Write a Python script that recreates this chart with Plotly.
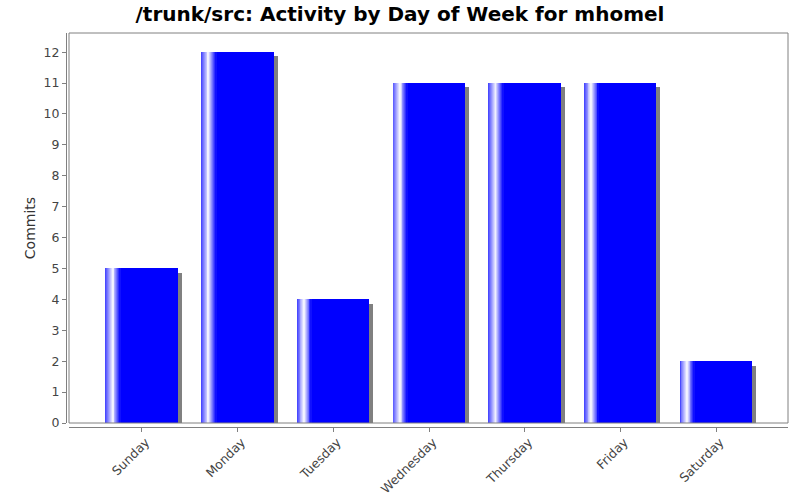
import plotly.graph_objects as go

days = ["Sunday", "Monday", "Tuesday", "Wednesday", "Thursday", "Friday", "Saturday"]
commits = [5, 12, 4, 11, 11, 11, 2]

title = "/trunk/src: Activity by Day of Week for mhomel"
y_title = "Commits"

BAR_W = 0.752
SH_DX = 0.042
SH_DY = 0.14
BLUE = (0, 0, 255)

xs = list(range(len(days)))

fig = go.Figure()

# shadow
fig.add_trace(go.Bar(
    x=[i + SH_DX for i in xs], y=[max(v - SH_DY, 0) for v in commits],
    width=BAR_W, marker=dict(color="#808080", line=dict(width=0)),
    hoverinfo="skip", showlegend=False))

# main bar
fig.add_trace(go.Bar(
    x=xs, y=commits, width=BAR_W,
    marker=dict(color="rgb(0,0,255)", line=dict(width=0)),
    showlegend=False))

# gradient stripe on the left 20% of each bar
def mix(c1, c2, t):
    return tuple(round(a + (b - a) * t) for a, b in zip(c1, c2))

left_c = (60, 60, 255)
white = (255, 255, 255)
n = 16
stripe = BAR_W * 0.2
sw = stripe / n
for k in range(n):
    t = (k + 0.5) / n
    if t < 0.5:
        c = mix(left_c, white, t / 0.5)
    else:
        c = mix(white, BLUE, (t - 0.5) / 0.5)
    fig.add_trace(go.Bar(
        x=[i - BAR_W / 2 + (k + 0.5) * sw for i in xs], y=commits,
        width=sw * 1.05, marker=dict(color="rgb(%d,%d,%d)" % c, line=dict(width=0)),
        hoverinfo="skip", showlegend=False))

L, R, T, B = 66, 12, 33, 73
pw = 800 - L - R
ph = 500 - T - B
dx0 = 3 / pw
dy0 = 4 / ph

fig.update_layout(
    width=800, height=500,
    margin=dict(l=L, r=R, t=T, b=B, pad=0, autoexpand=False),
    barmode="overlay", bargap=0,
    paper_bgcolor="white", plot_bgcolor="white",
    font=dict(family="DejaVu Sans", size=12, color="#444444"),
    title=dict(text="<b>" + title + "</b>", x=0.5, xanchor="center", y=0.972, yanchor="middle",
               font=dict(family="DejaVu Sans", size=20, color="black")),
    xaxis=dict(domain=[dx0, 1], anchor="free", position=0, automargin=False,
               range=[-0.762, 6.751], tickmode="array", tickvals=xs, ticktext=days,
               tickangle=-45, showline=True, linecolor="#808080", linewidth=1,
               ticks="outside", ticklen=4, tickcolor="#808080",
               ticklabelshift=4, ticklabelstandoff=-2,
               showgrid=False, zeroline=False, tickfont=dict(size=12.5, color="#444444")),
    yaxis=dict(domain=[dy0, 1], anchor="free", position=0, automargin=False,
               range=[0, 12.62], dtick=1, showline=True, linecolor="#808080", linewidth=1,
               ticks="outside", ticklen=4, tickcolor="#808080",
               showgrid=False, zeroline=False,
               title=dict(text=y_title, font=dict(size=14, color="#333333"), standoff=3),
               tickfont=dict(size=12.5, color="#444444")),
    shapes=[dict(type="rect", xref="paper", yref="paper", x0=dx0, x1=1, y0=dy0, y1=1,
                 line=dict(color="#808080", width=1), layer="above")],
)

fig.write_html("out.html", config={"displayModeBar": False},
               post_script="document.body.style.margin='0';document.body.style.overflow='hidden';")
